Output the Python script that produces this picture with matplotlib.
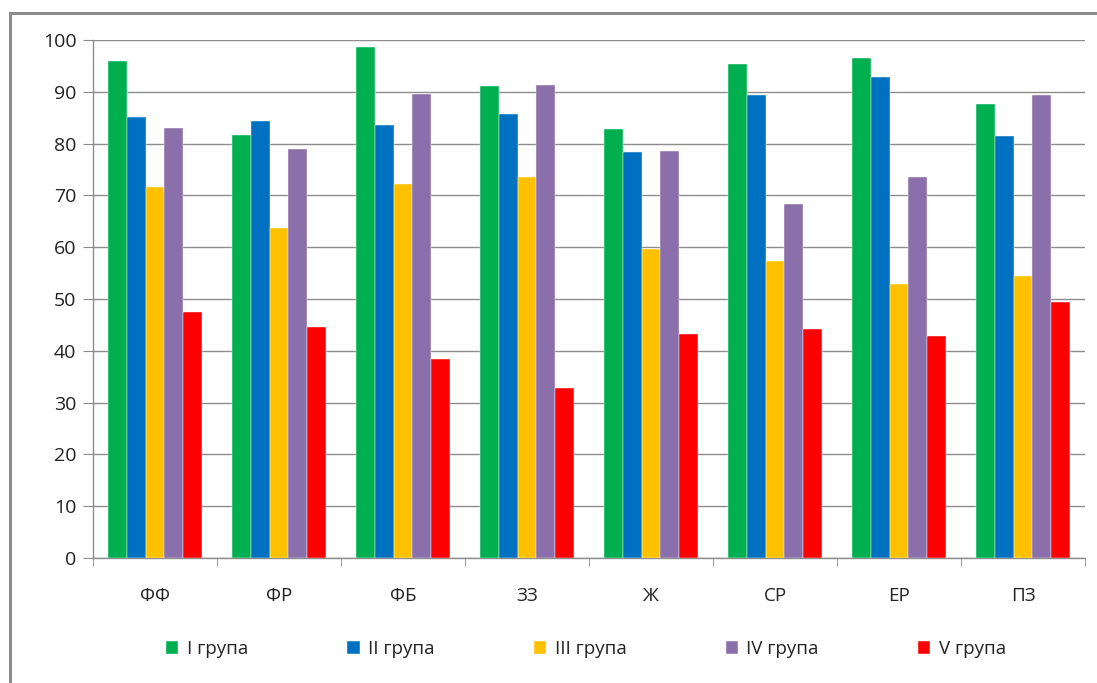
import numpy as np
import matplotlib.pyplot as plt
from matplotlib.patches import Rectangle

plt.rcParams['font.family'] = ['Open Sans', 'DejaVu Sans']

categories = ['ФФ', 'ФР', 'ФБ', 'ЗЗ', 'Ж', 'СР', 'ЕР', 'ПЗ']
groups = ['I група', 'II група', 'III група', 'IV група', 'V група']
g1 = [95.9, 81.6, 98.6, 91.1, 82.8, 95.4, 96.5, 87.6]
g2 = [85.1, 84.3, 83.6, 85.7, 78.4, 89.4, 92.8, 81.5]
g3 = [71.7, 63.8, 72.2, 73.6, 59.7, 57.4, 52.9, 54.4]
g4 = [83.0, 79.0, 89.5, 91.4, 78.6, 68.3, 73.6, 89.4]
g5 = [47.4, 44.6, 38.5, 32.8, 43.2, 44.3, 42.8, 49.4]
colors = ['#00B050', '#0070C0', '#FFC000', '#8B6FAB', '#FF0000']

series = [g1, g2, g3, g4, g5]

fig = plt.figure(figsize=(10.97, 6.83), dpi=100)
# outer chart frame
fig.patches.append(Rectangle((10 / 1097, -0.05), 1.1, 1 - 13 / 683 + 0.05,
                             transform=fig.transFigure, fill=False,
                             edgecolor='#8c8c8c', linewidth=2.2))

ax = fig.add_axes([93 / 1097, 1 - 558 / 683, (1085 - 93) / 1097, (558 - 40) / 683])

x = np.arange(len(categories))
w = 0.152
for i, (vals, c) in enumerate(zip(series, colors)):
    ax.bar(x + (i - 2) * w, vals, width=w, color=c, label=groups[i],
           edgecolor='white', linewidth=0.3, zorder=3)

ax.set_xlim(-0.5, len(categories) - 0.5)
ax.set_ylim(0, 100)
ax.set_yticks(range(0, 101, 10))
ax.yaxis.grid(True, color='#8c8c8c', linewidth=1.0, zorder=0)
ax.set_axisbelow(True)

ax.set_xticks(x)
ax.set_xticklabels(categories, fontsize=13.5, color='#222222')
ax.set_xticks(np.arange(-0.5, len(categories)), minor=True)
ax.tick_params(axis='x', which='major', length=0, pad=21)
ax.tick_params(axis='x', which='minor', length=6, color='#8c8c8c')
ax.tick_params(axis='y', length=7, color='#8c8c8c', labelsize=14, labelcolor='#222222', pad=5)

for s in ['top', 'right']:
    ax.spines[s].set_visible(False)
for s in ['left', 'bottom']:
    ax.spines[s].set_color('#8c8c8c')
    ax.spines[s].set_linewidth(1.0)

ax.legend(loc='upper center', bbox_to_anchor=(0.497, -0.125), ncol=5, frameon=False,
          fontsize=13.5, handlelength=0.65, handleheight=0.7, handletextpad=0.45,
          columnspacing=5.3, labelcolor='#222222')

fig.savefig('out.png', dpi=100)
